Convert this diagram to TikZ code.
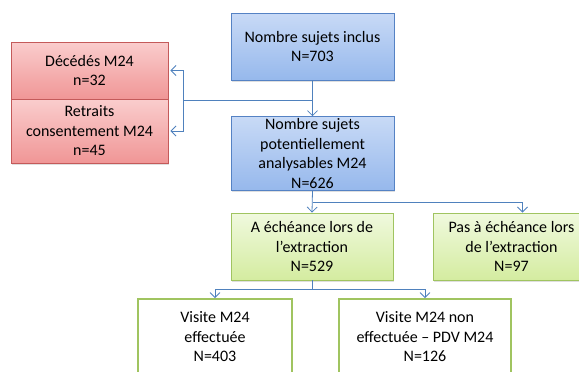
\documentclass[tikz,border=0pt]{standalone}
\usepackage{fontspec}
\setmainfont{Carlito}
\usepackage{xcolor}
\definecolor{LineBlue}   {RGB}{79, 129, 189}
\definecolor{BoxBlueTop} {RGB}{200, 218, 246}
\definecolor{BoxBlueBot} {RGB}{150, 184, 236}
\definecolor{BoxBlueDraw}{RGB}{85, 130, 196}
\definecolor{BoxRedTop}  {RGB}{250, 205, 205}
\definecolor{BoxRedBot}  {RGB}{240, 150, 150}
\definecolor{BoxRedDraw} {RGB}{196, 90, 90}
\definecolor{BoxGrnTop}  {RGB}{240, 249, 222}
\definecolor{BoxGrnBot}  {RGB}{212, 236, 160}
\definecolor{BoxGrnDraw} {RGB}{160, 196, 96}
\usetikzlibrary{arrows.meta, positioning, shadows}

\begin{document}
\begin{tikzpicture}[
  x=1pt, y=-1pt,
  font=\fontsize{16}{19.5}\selectfont,
  box/.style={
    align=center, inner sep=2pt, line width=0.9pt,
    shading=axis, shading angle=0,
    drop shadow={shadow xshift=1pt, shadow yshift=-1.5pt, opacity=0.25}
  },
  bluebox/.style={box, draw=BoxBlueDraw, top color=BoxBlueTop, bottom color=BoxBlueBot},
  redbox/.style={box, draw=BoxRedDraw, top color=BoxRedTop, bottom color=BoxRedBot},
  greenbox/.style={box, draw=BoxGrnDraw, top color=BoxGrnTop, bottom color=BoxGrnBot},
  whitebox/.style={align=center, draw=BoxGrnDraw, fill=white, line width=1.8pt,
    drop shadow={shadow xshift=1pt, shadow yshift=-1.5pt, opacity=0.2}},
  arr/.style={draw=LineBlue, line width=0.8pt,
    -{Straight Barb[length=5pt, width=10pt, line width=0.8pt]}},
  link/.style={draw=LineBlue, line width=0.8pt}
]
\useasboundingbox (0,0) rectangle (579,372);

% Boîtes principales
\node[bluebox, minimum width=163pt, minimum height=67pt] (incl) at (312.5,46.5)
  {Nombre sujets inclus\\N=703};
\node[bluebox, minimum width=163pt, minimum height=73pt] (analys) at (312.5,153.5)
  {Nombre sujets\\potentiellement\\analysables M24\\N=626};

% Exclusions
\node[redbox, minimum width=157pt, minimum height=57pt] (deces) at (89.5,70.5)
  {Décédés M24\\n=32};
\node[redbox, minimum width=157pt, minimum height=64pt] (retraits) at (89.5,131)
  {Retraits\\consentement M24\\n=45};

% Échéance
\node[greenbox, minimum width=162pt, minimum height=67pt] (echeance) at (312,246.5)
  {A échéance lors de\\l’extraction\\N=529};
\node[greenbox, minimum width=157pt, minimum height=67pt] (pasech) at (511.5,246.5)
  {Pas à échéance lors\\de l’extraction\\N=97};

% Visites
\node[whitebox, minimum width=154pt, minimum height=76pt] (visite) at (215,337)
  {Visite M24\\effectuée\\N=403};
\node[whitebox, minimum width=172pt, minimum height=76pt] (nonvisite) at (425,337)
  {Visite M24 non\\effectuée -- PDV M24\\N=126};

% Connecteurs
\coordinate (split) at (incl.south |- 0,100);
\coordinate (fork) at (183,100);
\draw[arr] (incl.south) -- (analys.north);
\draw[link] (split) -- (fork);
\draw[arr] (fork) |- ([xshift=2pt]deces.east);
\draw[arr] (fork) |- ([xshift=2pt]retraits.east);

\coordinate (b1) at ([yshift=-12pt]analys.south);
\coordinate (pasin) at ([xshift=11pt]pasech.north);
\draw[arr] (analys.south) -- (echeance.north);
\draw[arr] (b1) -| (pasin);

\coordinate (b2) at ([yshift=-9pt]echeance.south);
\draw[link] (echeance.south) -- (b2);
\draw[arr] (b2) -| (visite.north);
\draw[arr] (b2) -| (nonvisite.north);
\end{tikzpicture}
\end{document}
